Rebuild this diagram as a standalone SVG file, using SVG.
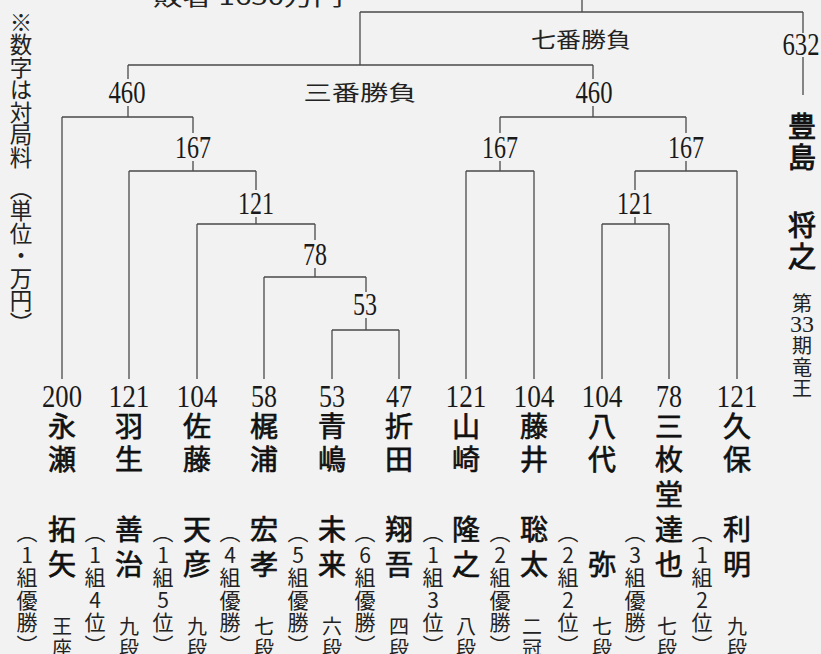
<svg xmlns="http://www.w3.org/2000/svg" width="821" height="654" viewBox="0 0 821 654">
<defs>
<style>
.bg{fill:#f2f2f2}
.ln{fill:none;stroke:#4a4a4a;stroke-width:1.3}
.num{font-family:"Liberation Serif",serif;font-size:31px;fill:#1a1a1a;text-anchor:middle}
.nm{font-family:"Noto Sans CJK JP",sans-serif;font-size:28px;font-weight:400;fill:#111;stroke:#111;stroke-width:0.7;text-anchor:middle}
.rk{font-family:"Noto Sans CJK JP",sans-serif;font-size:20px;fill:#222;text-anchor:middle}
.ann{font-family:"Noto Sans CJK JP",sans-serif;font-size:21px;fill:#222;writing-mode:vertical-rl;text-orientation:upright;letter-spacing:1.5px}
.note{font-family:"Noto Sans CJK JP",sans-serif;font-size:22.5px;fill:#222;writing-mode:vertical-rl;text-orientation:upright}
.lbl{font-family:"Noto Sans CJK JP",sans-serif;font-size:21px;fill:#222;text-anchor:middle}
.top{font-family:"Noto Sans CJK JP",sans-serif;font-size:21px;fill:#222}
</style>
</defs>
<rect class="bg" x="0" y="0" width="821" height="654"/>
<text class="top" x="153" y="5" textLength="190" lengthAdjust="spacingAndGlyphs">敗者 1650万円</text>
<text class="note" x="21" y="11">※数字は対局料<tspan dy="8">（単位・万円）</tspan></text>

<g id="connectors">
<path class="ln" d="M582 0V12M360 12H803M360 12V65M803 12V33M803 57V95"/>
<path class="ln" d="M128 65H593M128 65V79M128 106V117M593 65V79M593 106V117"/>
<path class="ln" d="M62 117H193M62 117V379M193 117V133M193 161V171M129 171H256M129 171V379M256 171V190M256 217V224M197 224H315M197 224V379M315 224V240M315 268V277M264 277H366M264 277V379M366 277V292M366 318V330M332 330H399M332 330V379M399 330V379"/>
<path class="ln" d="M500 117H686M500 117V133M500 161V171M466 171H534M466 171V379M534 171V379M686 117V133M686 161V171M635 171H737M737 171V379M635 171V190M635 217V224M602 224H669M602 224V379M669 224V379"/>
</g>

<g id="final">
<text class="lbl" x="581" y="47" textLength="100" lengthAdjust="spacingAndGlyphs">七番勝負</text>
<text class="num" x="801" y="55" textLength="37" lengthAdjust="spacingAndGlyphs">632</text>
</g>
<g id="playoff">
<text class="lbl" x="360" y="100" textLength="113" lengthAdjust="spacingAndGlyphs">三番勝負</text>
</g>
<g id="n-460-left"><text class="num" x="127" y="103" textLength="37" lengthAdjust="spacingAndGlyphs">460</text></g>
<g id="n-460-right"><text class="num" x="594" y="103" textLength="37" lengthAdjust="spacingAndGlyphs">460</text></g>
<g id="n-167-a"><text class="num" x="193" y="158" textLength="36" lengthAdjust="spacingAndGlyphs">167</text></g>
<g id="n-121-a"><text class="num" x="256" y="214" textLength="36" lengthAdjust="spacingAndGlyphs">121</text></g>
<g id="n-78-a"><text class="num" x="315" y="265" textLength="24" lengthAdjust="spacingAndGlyphs">78</text></g>
<g id="n-53-a"><text class="num" x="365" y="315" textLength="24" lengthAdjust="spacingAndGlyphs">53</text></g>
<g id="n-167-b"><text class="num" x="500" y="158" textLength="36" lengthAdjust="spacingAndGlyphs">167</text></g>
<g id="n-167-c"><text class="num" x="686" y="158" textLength="36" lengthAdjust="spacingAndGlyphs">167</text></g>
<g id="n-121-b"><text class="num" x="635" y="214" textLength="36" lengthAdjust="spacingAndGlyphs">121</text></g>

<g id="p-toyoshima">
<text class="nm" style="font-size:28px;stroke-width:0.9"><tspan x="802" y="137">豊</tspan><tspan x="802" y="168">島</tspan><tspan x="802" y="236">将</tspan><tspan x="802" y="267">之</tspan></text>
<text class="rk"><tspan x="802" y="311">第</tspan><tspan x="802" y="332" style="font-family:'Liberation Serif',serif;font-size:24px">33</tspan><tspan x="802" y="353">期</tspan><tspan x="802" y="375">竜</tspan><tspan x="802" y="396">王</tspan></text>
</g>

<g id="p-nagase">
<text class="num" x="62" y="407" textLength="40" lengthAdjust="spacingAndGlyphs">200</text>
<text class="nm"><tspan x="62" y="437">永</tspan><tspan x="62" y="470">瀬</tspan><tspan x="62" y="540">拓</tspan><tspan x="62" y="575">矢</tspan></text>
<text class="rk"><tspan x="62" y="634">王</tspan><tspan x="62" y="656">座</tspan></text>
<text class="ann" x="27" y="522">（1組優勝）</text>
</g>
<g id="p-habu">
<text class="num" x="129" y="407" textLength="41" lengthAdjust="spacingAndGlyphs">121</text>
<text class="nm"><tspan x="129" y="437">羽</tspan><tspan x="129" y="470">生</tspan><tspan x="129" y="540">善</tspan><tspan x="129" y="575">治</tspan></text>
<text class="rk"><tspan x="129" y="634">九</tspan><tspan x="129" y="656">段</tspan></text>
<text class="ann" x="95" y="522">（1組4位）</text>
</g>
<g id="p-sato">
<text class="num" x="197" y="407" textLength="41" lengthAdjust="spacingAndGlyphs">104</text>
<text class="nm"><tspan x="197" y="437">佐</tspan><tspan x="197" y="470">藤</tspan><tspan x="197" y="540">天</tspan><tspan x="197" y="575">彦</tspan></text>
<text class="rk"><tspan x="197" y="634">九</tspan><tspan x="197" y="656">段</tspan></text>
<text class="ann" x="163" y="522">（1組5位）</text>
</g>
<g id="p-kajiura">
<text class="num" x="264" y="407" textLength="26" lengthAdjust="spacingAndGlyphs">58</text>
<text class="nm"><tspan x="264" y="437">梶</tspan><tspan x="264" y="470">浦</tspan><tspan x="264" y="540">宏</tspan><tspan x="264" y="575">孝</tspan></text>
<text class="rk"><tspan x="264" y="634">七</tspan><tspan x="264" y="656">段</tspan></text>
<text class="ann" x="230" y="522">（4組優勝）</text>
</g>
<g id="p-aoshima">
<text class="num" x="332" y="407" textLength="26" lengthAdjust="spacingAndGlyphs">53</text>
<text class="nm"><tspan x="332" y="437">青</tspan><tspan x="332" y="470">嶋</tspan><tspan x="332" y="540">未</tspan><tspan x="332" y="575">来</tspan></text>
<text class="rk"><tspan x="332" y="634">六</tspan><tspan x="332" y="656">段</tspan></text>
<text class="ann" x="298" y="522">（5組優勝）</text>
</g>
<g id="p-orita">
<text class="num" x="399" y="407" textLength="26" lengthAdjust="spacingAndGlyphs">47</text>
<text class="nm"><tspan x="399" y="437">折</tspan><tspan x="399" y="470">田</tspan><tspan x="399" y="540">翔</tspan><tspan x="399" y="575">吾</tspan></text>
<text class="rk"><tspan x="399" y="634">四</tspan><tspan x="399" y="656">段</tspan></text>
<text class="ann" x="365" y="522">（6組優勝）</text>
</g>
<g id="p-yamasaki">
<text class="num" x="466" y="407" textLength="41" lengthAdjust="spacingAndGlyphs">121</text>
<text class="nm"><tspan x="466" y="437">山</tspan><tspan x="466" y="470">崎</tspan><tspan x="466" y="540">隆</tspan><tspan x="466" y="575">之</tspan></text>
<text class="rk"><tspan x="466" y="634">八</tspan><tspan x="466" y="656">段</tspan></text>
<text class="ann" x="433" y="522">（1組3位）</text>
</g>
<g id="p-fujii">
<text class="num" x="534" y="407" textLength="41" lengthAdjust="spacingAndGlyphs">104</text>
<text class="nm"><tspan x="534" y="437">藤</tspan><tspan x="534" y="470">井</tspan><tspan x="534" y="540">聡</tspan><tspan x="534" y="575">太</tspan></text>
<text class="rk"><tspan x="532" y="634">二</tspan><tspan x="532" y="656">冠</tspan></text>
<text class="ann" x="500" y="522">（2組優勝）</text>
</g>
<g id="p-yashiro">
<text class="num" x="602" y="407" textLength="41" lengthAdjust="spacingAndGlyphs">104</text>
<text class="nm"><tspan x="602" y="437">八</tspan><tspan x="602" y="470">代</tspan><tspan x="602" y="575">弥</tspan></text>
<text class="rk"><tspan x="602" y="634">七</tspan><tspan x="602" y="656">段</tspan></text>
<text class="ann" x="568" y="522">（2組2位）</text>
</g>
<g id="p-sanmaido">
<text class="num" x="669" y="407" textLength="26" lengthAdjust="spacingAndGlyphs">78</text>
<text class="nm"><tspan x="669" y="437">三</tspan><tspan x="669" y="470">枚</tspan><tspan x="669" y="505">堂</tspan><tspan x="669" y="540">達</tspan><tspan x="669" y="575">也</tspan></text>
<text class="rk"><tspan x="667" y="634">七</tspan><tspan x="667" y="656">段</tspan></text>
<text class="ann" x="635" y="522">（3組優勝）</text>
</g>
<g id="p-kubo">
<text class="num" x="737" y="407" textLength="41" lengthAdjust="spacingAndGlyphs">121</text>
<text class="nm"><tspan x="737" y="437">久</tspan><tspan x="737" y="470">保</tspan><tspan x="737" y="540">利</tspan><tspan x="737" y="575">明</tspan></text>
<text class="rk"><tspan x="737" y="634">九</tspan><tspan x="737" y="656">段</tspan></text>
<text class="ann" x="702" y="522">（1組2位）</text>
</g>
</svg>
